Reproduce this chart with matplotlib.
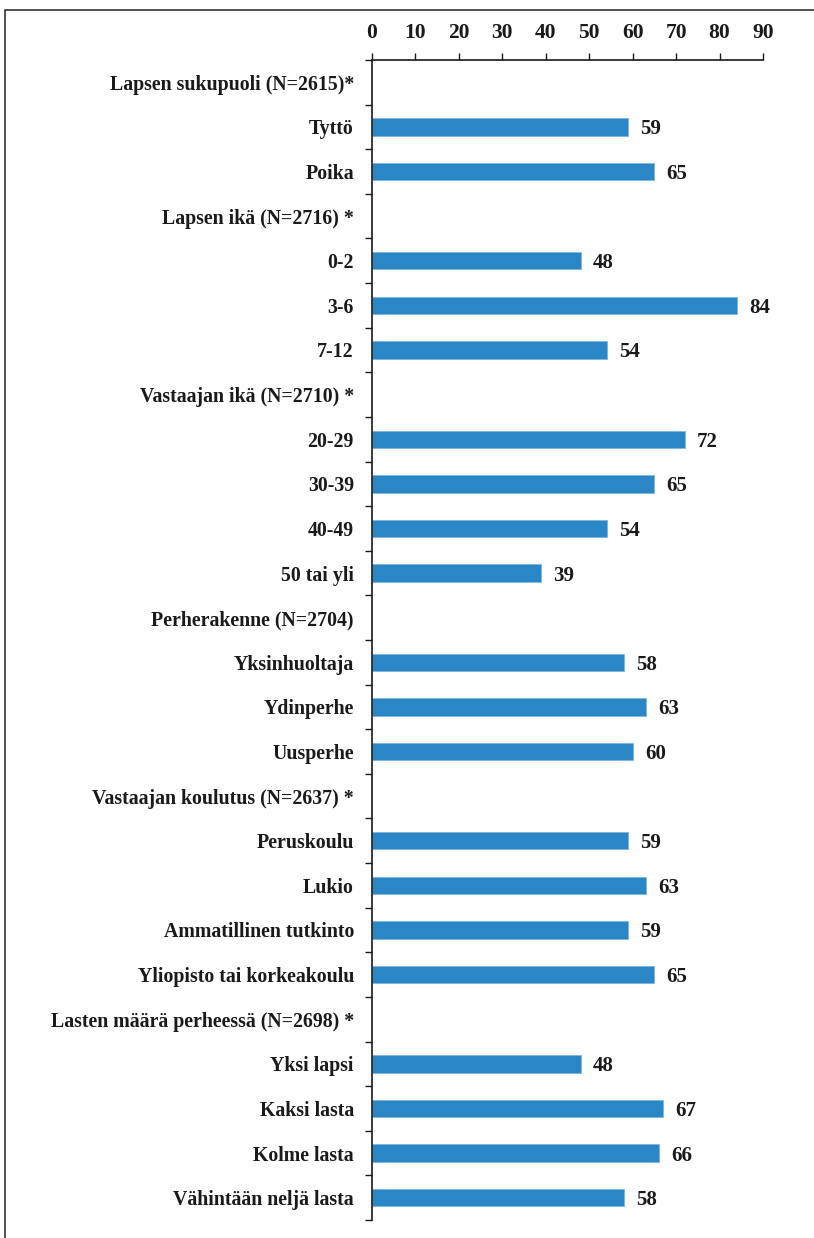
import matplotlib.pyplot as plt
from matplotlib.patches import Rectangle
import numpy as np

labels = [
    "Lapsen sukupuoli (N=2615)*", "Tyttö", "Poika",
    "Lapsen ikä (N=2716) *", "0-2", "3-6", "7-12",
    "Vastaajan ikä (N=2710) *", "20-29", "30-39", "40-49", "50 tai yli",
    "Perherakenne (N=2704)", "Yksinhuoltaja", "Ydinperhe", "Uusperhe",
    "Vastaajan koulutus (N=2637) *", "Peruskoulu", "Lukio",
    "Ammatillinen tutkinto", "Yliopisto tai korkeakoulu",
    "Lasten määrä perheessä (N=2698) *", "Yksi lapsi", "Kaksi lasta",
    "Kolme lasta", "Vähintään neljä lasta",
]
values = [
    None, 59, 65,
    None, 48, 84, 54,
    None, 72, 65, 54, 39,
    None, 58, 63, 60,
    None, 59, 63, 59, 65,
    None, 48, 67, 66, 58,
]
xticks = [0, 10, 20, 30, 40, 50, 60, 70, 80, 90]

plt.rcParams['font.family'] = ['Liberation Serif', 'DejaVu Serif']
plt.rcParams['font.weight'] = 'bold'

fig = plt.figure(figsize=(8.14, 12.38), dpi=100)
ax = fig.add_axes([372 / 814, 1 - 1220 / 1238, 391 / 814, 1160 / 1238])

n = len(labels)
ypos = np.arange(n)
bar_color = '#2a86c4'
text_color = '#1a1a1a'
for y, v in zip(ypos, values):
    if v is None:
        continue
    ax.barh(y, v, height=0.39, color=bar_color, edgecolor='#7db6df', linewidth=0.6)
    ax.text(v + 2.8, y, str(v), va='center_baseline', ha='left', fontsize=15,
            fontweight='bold', color=text_color)

ax.set_xlim(0, 90)
ax.set_ylim(n - 0.5, -0.5)
ax.xaxis.tick_top()
ax.set_xticks(xticks)
ax.set_xticklabels([str(t) for t in xticks], fontsize=15.5, fontweight='bold', color=text_color)
ax.tick_params(axis='x', direction='out', length=5, width=1, pad=7, color=text_color)

ax.set_yticks(ypos)
ax.set_yticklabels(labels, fontsize=14.3, fontweight='bold', color=text_color)
ax.set_yticks(np.arange(n + 1) - 0.5, minor=True)
ax.tick_params(axis='y', which='major', length=0, pad=13)
ax.tick_params(axis='y', which='minor', direction='out', length=5, width=1, color=text_color)

for side in ['right', 'bottom']:
    ax.spines[side].set_visible(False)
for side in ['left', 'top']:
    ax.spines[side].set_color(text_color)
    ax.spines[side].set_linewidth(1.2)

fig.patches.append(Rectangle((5 / 814, -0.05), 1.0, 1 - 10 / 1238 + 0.05,
                             transform=fig.transFigure, fill=False,
                             edgecolor='#333333', linewidth=1.2))

fig.savefig('out.png', dpi=100)
